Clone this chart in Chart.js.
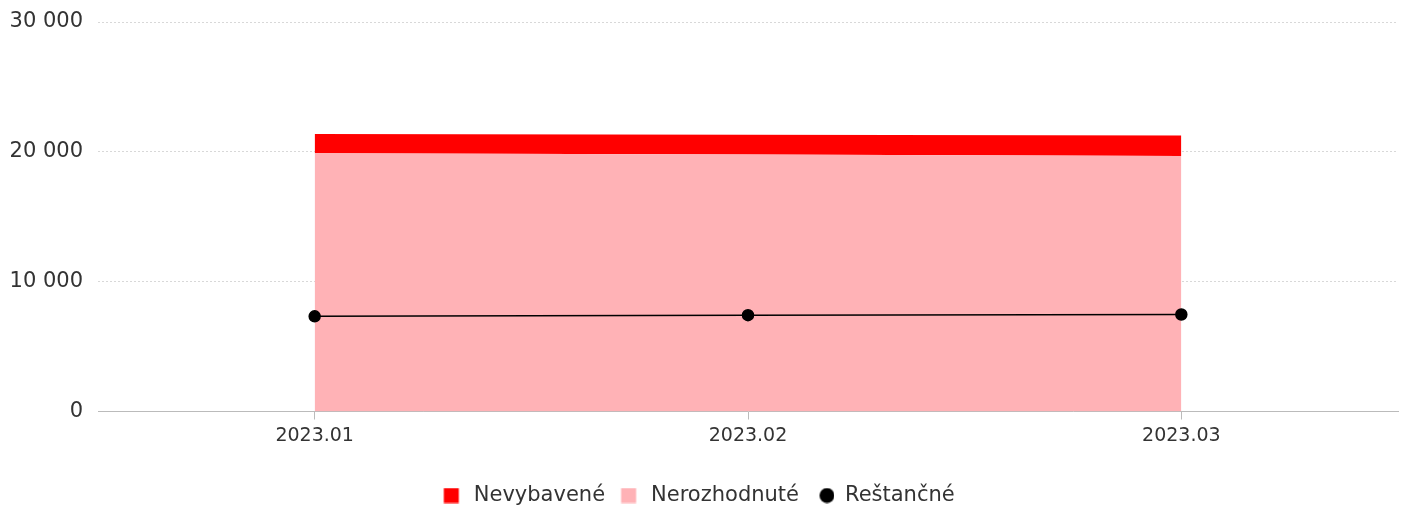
<!DOCTYPE html>
<html>
<head>
<meta charset="utf-8">
<script src="https://cdn.jsdelivr.net/npm/chart.js@4.4.0/dist/chart.umd.min.js"></script>
<style>
html,body{margin:0;padding:0;background:#fff;}
#wrap{width:1405px;height:506px;}
</style>
</head>
<body>
<div id="wrap"><canvas id="c" width="1405" height="506"></canvas></div>
<script>
const categories = ['2023.01', '2023.02', '2023.03'];
const nevybavene = [1465, 1510, 1595];
const nerozhodnute = [19900, 19800, 19670];
const restancne = [7330, 7420, 7470];
const yTicks = [0, 10000, 20000, 30000];

Chart.defaults.font.family = 'DejaVu Sans';
Chart.defaults.color = '#333';

function marker(kind, color) {
  const c = document.createElement('canvas');
  c.width = 24; c.height = 16;
  const g = c.getContext('2d');
  g.fillStyle = color;
  if (kind === 'circle') {
    g.beginPath(); g.arc(16.5, 8, 7.5, 0, Math.PI * 2); g.fill();
  } else {
    g.fillRect(4.5, 0.5, 15, 15);
  }
  return c;
}
const legendMarkers = {
  'Nevybavené': marker('rect', '#ff0000'),
  'Nerozhodnuté': marker('rect', '#ffb2b6'),
  'Reštančné': marker('circle', '#000000')
};

new Chart(document.getElementById('c'), {
  type: 'line',
  data: {
    labels: categories,
    datasets: [
      {
        label: 'Reštančné',
        data: restancne,
        stack: 'line',
        borderColor: '#000',
        backgroundColor: '#000',
        borderWidth: 1.5,
        pointRadius: 5.5,
        pointHoverRadius: 5.5,
        pointStyle: 'circle',
        fill: false,
        tension: 0
      },
      {
        label: 'Nerozhodnuté',
        data: nerozhodnute,
        stack: 'area',
        borderWidth: 0,
        borderColor: 'rgba(0,0,0,0)',
        backgroundColor: '#ffb2b6',
        pointRadius: 0,
        pointStyle: 'rect',
        fill: 'origin',
        tension: 0
      },
      {
        label: 'Nevybavené',
        data: nevybavene,
        stack: 'area',
        borderWidth: 0,
        borderColor: 'rgba(0,0,0,0)',
        backgroundColor: '#ff0000',
        pointRadius: 0,
        pointStyle: 'rect',
        fill: '-1',
        tension: 0
      }
    ]
  },
  options: {
    responsive: false,
    animation: false,
    devicePixelRatio: 1,
    layout: { padding: { left: -4, right: 7, top: 22, bottom: -10 } },
    plugins: {
      tooltip: { enabled: false },
      legend: {
        position: 'bottom',
        reverse: true,
        labels: {
          usePointStyle: true,
          pointStyleWidth: 24,
          boxHeight: 21,
          padding: 11.5,
          color: '#333',
          font: { size: 21 },
          generateLabels: (chart) => {
            const items = Chart.defaults.plugins.legend.labels.generateLabels(chart);
            items.forEach(it => { it.pointStyle = legendMarkers[it.text]; it.lineWidth = 0; });
            return items;
          }
        }
      }
    },
    scales: {
      x: {
        offset: true,
        afterFit: (axis) => { axis.height = 62; },
        grid: {
          display: true,
          drawOnChartArea: false,
          tickLength: 8,
          color: '#bbb',
          offset: false
        },
        border: { display: true, color: '#bbb', width: 1 },
        ticks: { font: { size: 19 }, color: '#333', padding: 5 }
      },
      y: {
        stacked: true,
        min: 0,
        max: 30000,
        afterFit: (axis) => { axis.width = 102; axis.paddingTop = 0; },
        afterBuildTicks: (axis) => { axis.ticks = yTicks.map(v => ({ value: v })); },
        grid: {
          color: '#d8d8d8',
          lineWidth: 1,
          drawTicks: false
        },
        border: { display: false, dash: [2, 2] },
        ticks: {
          font: { size: 21 },
          color: '#333',
          padding: 15,
          callback: (v) => String(v).replace(/\B(?=(\d{3})+(?!\d))/g, ' ')
        }
      }
    }
  }
});
</script>
</body>
</html>
